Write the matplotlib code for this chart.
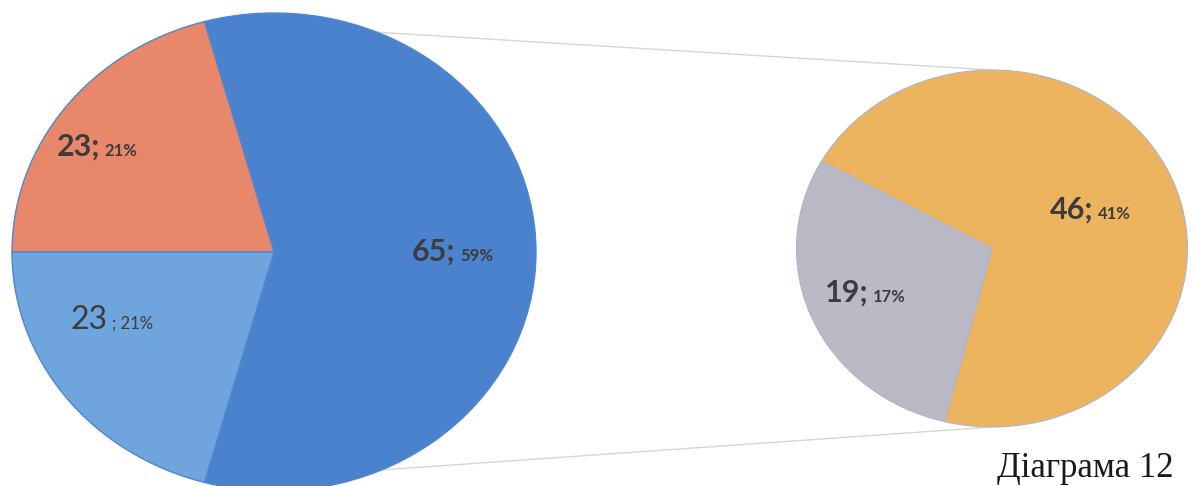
import numpy as np
import matplotlib
matplotlib.use("Agg")
import matplotlib.pyplot as plt
from matplotlib.patches import ConnectionPatch
from matplotlib.offsetbox import TextArea, HPacker, AnnotationBbox

# ---- data ----
main_labels = ["Інше", "Категорія 2", "Категорія 3"]
main_values = [65, 23, 23]
sub_labels = ["Підкатегорія 1", "Підкатегорія 2"]
sub_values = [46, 19]
caption = "Діаграма 12"

main_colors = ["#4B82CD", "#E8876A", "#6EA5DC"]
sub_colors = ["#ECB45F", "#B9BAC6"]
text_color = "#3C3C3C"

total = sum(main_values)

W, H = 1194, 486
fig = plt.figure(figsize=(W / 100, H / 100), dpi=100)
fig.patch.set_facecolor("white")

# left (main) pie
ax1 = fig.add_axes([12 / W, -5 / H, 524 / W, 478 / H])
half = 360.0 * main_values[0] / total / 2.0
w1, _ = ax1.pie(main_values, colors=main_colors, startangle=-half,
                counterclock=True, radius=1.0,
                wedgeprops=dict(edgecolor="#4F86D0", linewidth=1.0))
ax1.set_aspect("auto")
ax1.set_xlim(-1, 1)
ax1.set_ylim(-1, 1)
ax1.axis("off")

# right (secondary) pie
ax2 = fig.add_axes([796.5 / W, 59 / H, 391 / W, 357 / H])
w2, _ = ax2.pie(sub_values, colors=sub_colors, startangle=-104,
                counterclock=True, radius=1.0,
                wedgeprops=dict(edgecolor="#AEB4CC", linewidth=0.8))
ax2.set_aspect("auto")
ax2.set_xlim(-1, 1)
ax2.set_ylim(-1, 1)
ax2.axis("off")

# connector lines
for sgn in (1, -1):
    ang = np.deg2rad(sgn * half)
    con = ConnectionPatch(xyA=(np.cos(ang), np.sin(ang)), coordsA=ax1.transData,
                          xyB=(0, sgn * 1.0), coordsB=ax2.transData,
                          color="#D6D6D6", linewidth=1.0, zorder=0)
    fig.add_artist(con)


def pct(v):
    return f"{round(v / total * 100):.0f}%"


def put_label(ax, xy, big, small, bigsize, smallsize, weight):
    t1 = TextArea(big, textprops=dict(fontsize=bigsize, fontweight=weight,
                                      color=text_color, family="Lato"))
    t2 = TextArea(small, textprops=dict(fontsize=smallsize, fontweight=weight,
                                        color=text_color, family="Lato"))
    box = HPacker(children=[t1, t2], align="baseline", pad=0, sep=3)
    ab = AnnotationBbox(box, xy, xycoords="data", box_alignment=(0, 0.5),
                        frameon=False, pad=0)
    ax.add_artist(ab)


# main pie labels (value; percent)
put_label(ax1, (0.527, 0.0), f"{main_values[0]};", pct(main_values[0]), 22, 12, "bold")
put_label(ax1, (-0.83, 0.44), f"{main_values[1]};", pct(main_values[1]), 22, 12, "bold")
put_label(ax1, (-0.775, -0.285), f"{main_values[2]}", "; " + pct(main_values[2]), 23, 12, "normal")

# secondary pie labels
put_label(ax2, (0.297, 0.216), f"{sub_values[0]};", pct(sub_values[0]), 22, 12, "bold")
put_label(ax2, (-0.854, -0.249), f"{sub_values[1]};", pct(sub_values[1]), 22, 12, "bold")

fig.text(997 / W, 9 / H, caption, fontsize=25, family="Liberation Serif",
         color="#1A1A1A", ha="left", va="baseline")

fig.savefig("out.png", dpi=100, facecolor="white")
